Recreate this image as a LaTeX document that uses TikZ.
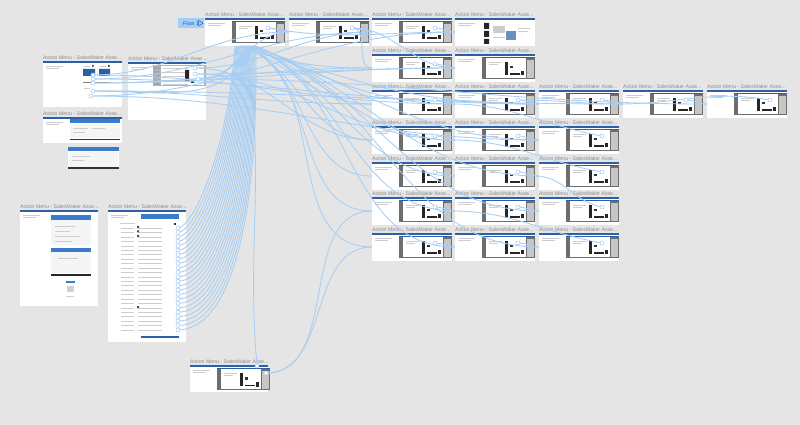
\documentclass[tikz,border=0pt]{standalone}
\usepackage{fontspec}
\setmainfont{Liberation Sans}
\usetikzlibrary{arrows.meta, positioning, calc}

\definecolor{canvas}{HTML}{E5E5E5}
\definecolor{barblue}{HTML}{2D5FA6}
\definecolor{headblue}{HTML}{3A7CCB}
\definecolor{wireblue}{HTML}{A6CEF4}
\definecolor{shotgrey}{HTML}{6E6E6E}
\definecolor{tagblue}{HTML}{A3CEF5}
\definecolor{tagtext}{HTML}{1E5FAF}
\definecolor{textgrey}{HTML}{8C8C8C}
\definecolor{lightline}{HTML}{CDCDCD}

\tikzset{
    artboard/.style={rectangle, fill=white, anchor=north west, inner sep=0pt, outer sep=0pt},
    board title/.style={anchor=south west, inner sep=0pt, yshift=1.3pt, text=textgrey, font=\fontsize{7.4}{8}\selectfont},
    wire/.style={draw=wireblue, line width=1.2pt},
    hotspot/.style={circle, draw=wireblue, fill=white, line width=0.8pt, inner sep=0pt, minimum size=0.2cm},
    flow tag/.style={rectangle, fill=tagblue, text=tagtext, inner xsep=0.1cm, inner ysep=0pt, minimum width=1.3cm, minimum height=0.5cm, font=\fontsize{7.6}{8}\selectfont}
}

% artboard: name, x, y, width, height (in px)
\newcommand{\drawboard}[5]{%
    \node[artboard, minimum width=#4*0.05cm, minimum height=#5*0.05cm] (#1) at (#2,#3) {};
    \fill[barblue] (#1.north west) rectangle ([yshift=-0.08cm]#1.north east);
    \node[board title] (#1-title) at (#1.north west) {Action Menu - SalesMaker Asse...};
    \draw[lightline, line width=0.45pt] ({#2+3},{#3+5}) -- ++(17,0) ({#2+3},{#3+7.5}) -- ++(13,0);
}

% screenshot inside a standard artboard: name, x, y
\newcommand{\drawshot}[3]{%
    \fill[shotgrey] ({#2+27},{#3+3}) rectangle ({#2+80},{#3+25});
    \fill[barblue] ({#2+27},{#3+3}) rectangle ({#2+80},{#3+4.2});
    \fill[white] ({#2+31},{#3+4.2}) rectangle ({#2+71},{#3+24});
    \draw[lightline, line width=0.35pt] ({#2+34},{#3+8}) -- ++(13,0) ({#2+34},{#3+10}) -- ++(9,0);
    \fill[black!85] ({#2+50},{#3+8}) rectangle ({#2+52.5},{#3+21});
    \fill[black!80] ({#2+55},{#3+12}) rectangle ({#2+58},{#3+14.5});
    \fill[black!85] ({#2+55},{#3+19.5}) rectangle ({#2+65},{#3+21});
    \fill[black!85] ({#2+66},{#3+17}) rectangle ({#2+68.5},{#3+21.5});
    \fill[gray!45] ({#2+72},{#3+6}) rectangle ({#2+79},{#3+24});
    \coordinate (#1-hs) at ({#2+63},{#3+10});
}

\begin{document}
\begin{tikzpicture}[x=0.05cm, y=-0.05cm]
    \useasboundingbox (0,0) rectangle (800,425);
    \fill[canvas] (0,0) rectangle (800,425);

    % top row
    \drawboard{a1}{205}{18}{80}{28} \drawshot{a1}{205}{18}
    \drawboard{a2}{289}{18}{80}{28} \drawshot{a2}{289}{18}
    \drawboard{b31}{372}{18}{80}{28} \drawshot{b31}{372}{18}
    \drawboard{b41}{455}{18}{80}{28}
    \fill[white] (482,21) rectangle (535,45);
    \fill[black!85] (484,23) rectangle (489,29) (484,31) rectangle (489,37) (484,39) rectangle (489,44);
    \fill[gray!40] (493,26) rectangle (505,33);
    \fill[barblue!70] (506,31) rectangle (516,40);
    \draw[lightline, line width=0.35pt] (493,37) -- (505,37) (518,28) -- (530,28) (518,31) -- (528,31);
    \coordinate (b41-hs) at (530,32);

    \node[flow tag, left=0.05cm of a1.north west, anchor=north east] (flow) {Flow 1\hspace{0.32cm}};
    \draw[tagtext, line width=0.6pt, line join=round] ([xshift=-0.27cm, yshift=-0.12cm]flow.north east) -- ++(0,5.5) -- ++(4.5,-2.75) -- cycle;

    % second and third rows
    \drawboard{b32}{372}{54}{80}{28} \drawshot{b32}{372}{54}
    \drawboard{b42}{455}{54}{80}{28} \drawshot{b42}{455}{54}
    \foreach \col/\xpos in {3/372, 4/455, 5/539, 6/623, 7/707} {
        \drawboard{b\col3}{\xpos}{90}{80}{28} \drawshot{b\col3}{\xpos}{90}
    }

    % grid below
    \foreach \row/\ypos in {4/126, 5/162, 6/197, 7/233} {
        \foreach \col/\xpos in {3/372, 4/455, 5/539} {
            \drawboard{b\col\row}{\xpos}{\ypos}{80}{28} \drawshot{b\col\row}{\xpos}{\ypos}
        }
    }

    % left artboards
    \drawboard{l1}{43}{61}{79}{46}
    \fill[barblue] (83,69) rectangle (95,76) (99,69) rectangle (110,76);
    \draw[lightline, line width=0.4pt] (84,66) -- (90,66) (100,66) -- (106,66) (84,88) -- (90,88);
    \draw[gray, line width=0.5pt] (83,82) -- (110,82);
    \fill[black!70] (108,65) rectangle (109.5,67) (92,65) rectangle (93.5,67);
    \coordinate (l1-hs1) at (93,75);
    \coordinate (l1-hs2) at (93,79);
    \coordinate (l1-hs3) at (93,83);
    \coordinate (l1-hs4) at (93,91);
    \coordinate (l1-hs5) at (91,96);

    \drawboard{l3}{128}{62}{78}{58}
    \fill[gray!60] (153,65) rectangle (206,86);
    \fill[white] (161,66) rectangle (204,85);
    \foreach \k in {0,...,4} {
        \fill[gray!70] (153,{67+\k*4}) rectangle (160,{69+\k*4});
        \draw[lightline, line width=0.35pt] (163,{68+\k*4}) -- (188,{68+\k*4});
    }
    \fill[black!85] (185,70) rectangle (189,82) (191,80) rectangle (194,83);
    \coordinate (l3-hs1) at (195,68);
    \coordinate (l3-hs2) at (195,74);
    \coordinate (l3-hs3) at (198,79);

    \drawboard{l2}{43}{117}{79}{26}
    \fill[headblue] (70,119) rectangle (120,123);
    \fill[gray!8] (70,124) rectangle (120,138);
    \draw[lightline, line width=0.35pt] (73,128) -- (88,128) (92,128) -- (105,128) (73,132) -- (85,132);
    \fill[black!80] (70,139) rectangle (120,140);

    \node[artboard, minimum width=51*0.05cm, minimum height=22*0.05cm] (l2panel) at (68,147) {};
    \fill[headblue] (68,147) rectangle (119,151);
    \fill[gray!8] (69,152) rectangle (118,167);
    \draw[lightline, line width=0.35pt] (72,156) -- (90,156) (72,160) -- (84,160);
    \fill[black!80] (68,167.5) rectangle (119,169);

    % long pages
    \drawboard{p1}{20}{210}{78}{96}
    \fill[headblue] (51,215) rectangle (91,220);
    \fill[gray!8] (51,220) rectangle (91,245);
    \draw[lightline, line width=0.35pt] (55,226) -- (75,226) (55,231) -- (70,231) (55,236) -- (80,236) (55,241) -- (72,241);
    \fill[headblue] (51,248) rectangle (91,252);
    \fill[gray!8] (51,252) rectangle (91,273);
    \draw[lightline, line width=0.35pt] (58,258) -- (78,258);
    \fill[black!85] (51,274) rectangle (91,276);
    \fill[headblue] (66,281) rectangle (75,283);
    \fill[gray!35] (67,286) rectangle (74,292);
    \draw[lightline, line width=0.35pt] (66,296) -- (74,296);

    \drawboard{p2}{108}{210}{78}{132}
    \fill[headblue] (141,214) rectangle (179,219);
    \draw[lightline, line width=0.35pt] (120,223) -- (135,223);
    \fill[black!80] (174,223) rectangle (176,225);
    \foreach \i in {0,...,23} {
        \coordinate (f\i) at (178,{228+\i*4.43});
        \draw[lightline, line width=0.35pt] (121,{228+\i*4.43}) -- (134,{228+\i*4.43}) (138,{228+\i*4.43}) -- (162,{228+\i*4.43});
    }
    \fill[black!70] (137,226) rectangle (139,228) (137,230.5) rectangle (139,232.5) (137,235) rectangle (139,237) (137,306) rectangle (139,308);
    \fill[barblue] (141,336) rectangle (179,338);

    % bottom artboard
    \drawboard{c1}{190}{365}{78}{27} \drawshot{c1}{190}{365}
    \coordinate (c1-top) at (257,366);
    \coordinate (c1-side) at (266,373);

    % list page back to home
    \foreach \i in {0,...,23}
        \draw[wire] (f\i) .. controls +({14+\i*1.6},0) and +({\i*0.5-8},{110+\i*3}) .. ([xshift=\i*0.045cm-0.5cm]a1.south);

    % home to detail screens
    \foreach \t [count=\k] in {b32,b33,b34,b35,b36,b37,b43,b44,b45,b46,b47,b53,b54,b55,b56,b57}
        \draw[wire] ([xshift=\k*0.05cm-0.3cm]a1.south) to[out=-20, in=180] (\t.west);

    % left pages to the flow
    \foreach \s/\t in {l1-hs1/a2, l1-hs2/b31, l1-hs3/b32, l1-hs4/b33, l1-hs5/b41, l3-hs1/b31, l3-hs2/b42, l3-hs3/a2, l1-hs1/b43, l1-hs2/b53, l1-hs4/b63, l3-hs1/b34, l3-hs2/b44, l3-hs3/b73, l1-hs3/b42, l1-hs5/b54}
        \draw[wire] (\s) to[out=0, in=180] (\t.west);
    \draw[wire] (l3-hs3) to[out=0, in=-110] (a1.south);
    \draw[wire] (l1-hs4) to[out=0, in=-100] (a1.south);

    \draw[wire] (a1-hs) to[out=0, in=180] (a2.west);
    \draw[wire] (a1-hs) to[out=-10, in=180] (b41.west);
    \draw[wire] (a2-hs) to[out=0, in=180] (b31.west);
    \draw[wire] (a2-hs) to[out=0, in=180] (b32.west);
    \draw[wire] (a2-hs) to[out=0, in=180] (b42.west);

    % screen to screen
    \foreach \s/\t in {b31/b41, b32/b42, b33/b43, b43/b53, b53/b63, b63/b73, b43/b63, b33/b53, b34/b44, b44/b54, b35/b45, b45/b55, b36/b46, b46/b56, b37/b47, b47/b57}
        \draw[wire] (\s-hs) to[out=0, in=180] (\t.west);
    \foreach \s/\t in {b54/b33, b55/b34, b56/b45, b57/b36, b73/b53}
        \draw[wire] (\s-hs) to[out=170, in=0] (\t.east);

    \draw[wire] (c1-top) to[out=95, in=-80] (a1.south);
    \draw[wire] (c1-side) to[out=0, in=180] (b37.west);
    \draw[wire] (c1-side) to[out=0, in=180] (b36.west);

    % hotspots
    \foreach \i in {0,...,23}
        \node[hotspot] (dot-f\i) at (f\i) {};
    \foreach \h in {l1-hs1, l1-hs2, l1-hs3, l1-hs4, l1-hs5, l3-hs1, l3-hs2, l3-hs3, a1-hs, a2-hs, b31-hs, b32-hs, b33-hs, b43-hs, b53-hs, b63-hs, b73-hs, b34-hs, b44-hs, b54-hs, b35-hs, b45-hs, b55-hs, b36-hs, b46-hs, b56-hs, b37-hs, b47-hs, b57-hs, c1-top, c1-side}
        \node[hotspot] (dot-\h) at (\h) {};
\end{tikzpicture}
\end{document}
